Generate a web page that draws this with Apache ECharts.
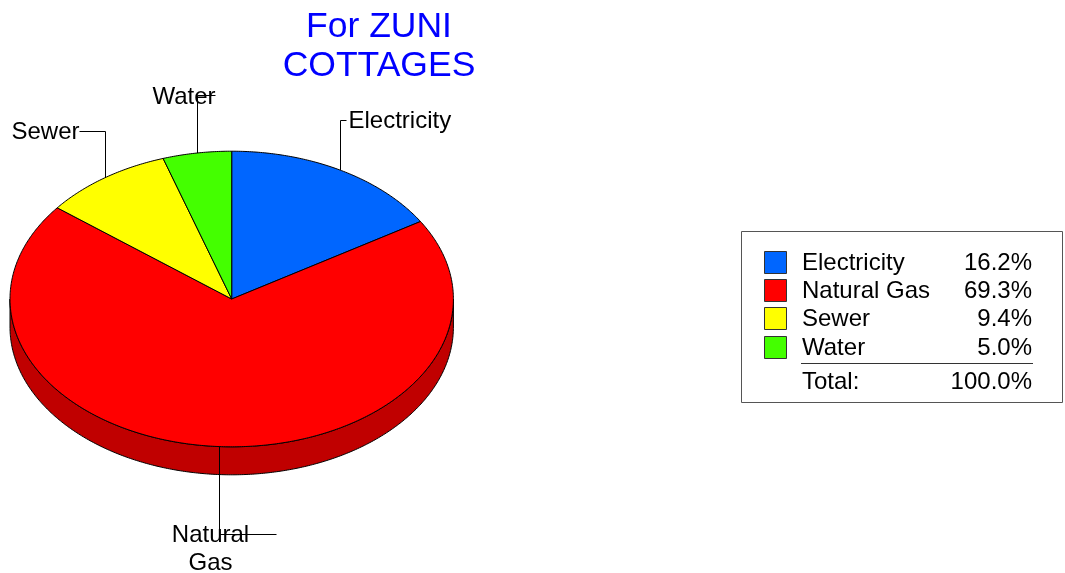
<!DOCTYPE html>
<html>
<head>
<meta charset="utf-8">
<script src="https://cdn.jsdelivr.net/npm/echarts@6/dist/echarts.min.js"></script>
<style>
  html, body { margin: 0; padding: 0; background: #fff; }
  #chart { width: 1065px; height: 573px; }
</style>
</head>
<body>
<div id="chart"></div>
<script>
// Utility cost shares (percent)
const categories = ['Electricity', 'Natural Gas', 'Sewer', 'Water'];
const shares = [16.2, 69.3, 9.4, 5.0];
const totalShare = 100.0;
const sliceLabels = ['Electricity', 'Natural\nGas', 'Sewer', 'Water'];
const titleText = 'For ZUNI\nCOTTAGES';

// Styling
const sliceColors = ['#0066ff', '#ff0000', '#ffff00', '#44ff00'];
const sideColors = ['#004cc0', '#c00000', '#c0c000', '#33c000'];
const FONT = '"Liberation Sans", Arial, Helvetica, sans-serif';

// Tilted pie geometry
const pie = { cx: 231.7, cy: 299, rx: 221.7, ry: 147.8, depth: 28 };

// Leader-line routing per slice: elbow y, horizontal tail, text offset
const labelRoutes = [
  { elbowY: 120.5, tail: 6, tx: 8, ty: 1, align: 'left', va: 'middle' },
  { elbowY: 534.5, tail: 57, tx: -9, ty: -13, align: 'center', va: 'top' },
  { elbowY: 131.5, tail: -26, tx: -26, ty: 1, align: 'right', va: 'middle' },
  { elbowY: 95.5, tail: 18, tx: 18, ty: 2, align: 'right', va: 'middle' }
];

const shareSum = shares.reduce((a, b) => a + b, 0);

function pt(a, dy) {
  return [pie.cx + pie.rx * Math.sin(a), pie.cy - pie.ry * Math.cos(a) + (dy || 0)];
}
function arc(a0, a1, dy) {
  const n = Math.max(2, Math.ceil(Math.abs(a1 - a0) / 0.01));
  const out = [];
  for (let k = 0; k <= n; k++) out.push(pt(a0 + (a1 - a0) * k / n, dy));
  return out;
}

function renderSlice(params, api) {
  const i = params.dataIndex;
  const v = api.value(0);
  let before = 0;
  for (let k = 0; k < i; k++) before += shares[k];
  const a0 = before / shareSum * 2 * Math.PI;
  const a1 = (before + v) / shareSum * 2 * Math.PI;
  const children = [];

  // side wall: only the front half (angles between 90° and 270°) shows
  const s0 = Math.max(a0, Math.PI / 2), s1 = Math.min(a1, Math.PI * 1.5);
  if (s1 > s0) {
    const pts = arc(s0, s1, 0).concat(arc(s1, s0, pie.depth));
    children.push({
      type: 'polygon', z2: 1,
      shape: { points: pts },
      style: { fill: sideColors[i], stroke: '#000', lineWidth: 1 }
    });
  }

  // top face
  children.push({
    type: 'polygon', z2: 10,
    shape: { points: [[pie.cx, pie.cy]].concat(arc(a0, a1, 0)) },
    style: { fill: sliceColors[i], stroke: '#000', lineWidth: 1, lineJoin: 'round' }
  });

  // leader line and label
  const r = labelRoutes[i];
  const m = pt((a0 + a1) / 2, 0);
  const ex = Math.round(m[0]) + 0.5;
  children.push({
    type: 'polyline', z2: 20,
    shape: { points: [[ex, m[1]], [ex, r.elbowY], [ex + r.tail, r.elbowY]] },
    style: { stroke: '#000', lineWidth: 1, fill: null }
  });
  children.push({
    type: 'text', z2: 19,
    style: {
      text: sliceLabels[i], x: ex + r.tx, y: r.elbowY + r.ty,
      align: r.align, textAlign: r.align,
      verticalAlign: r.va, textVerticalAlign: r.va,
      font: '24px ' + FONT, lineHeight: 28, fill: '#000'
    }
  });
  return { type: 'group', children: children };
}

// Legend panel built from the same arrays
const legendGraphics = [];
legendGraphics.push({
  type: 'rect', z: 0,
  shape: { x: 741.5, y: 231.5, width: 321, height: 171 },
  style: { fill: '#fff', stroke: '#555', lineWidth: 1 }
});
categories.forEach((name, i) => {
  const rowY = 261.5 + i * 28.4;
  legendGraphics.push({
    type: 'rect', z: 1,
    shape: { x: 764.5, y: Math.round(rowY - 11) + 0.5, width: 22, height: 22 },
    style: { fill: sliceColors[i], stroke: '#333', lineWidth: 1 }
  });
  legendGraphics.push({
    type: 'text', z: 1,
    style: { text: name, x: 802, y: rowY + 1.5, align: 'left', textAlign: 'left',
             verticalAlign: 'middle', textVerticalAlign: 'middle',
             font: '24px ' + FONT, fill: '#000' }
  });
  legendGraphics.push({
    type: 'text', z: 1,
    style: { text: shares[i].toFixed(1) + '%', x: 1032, y: rowY + 1.5, align: 'right', textAlign: 'right',
             verticalAlign: 'middle', textVerticalAlign: 'middle',
             font: '24px ' + FONT, fill: '#000' }
  });
});
legendGraphics.push({
  type: 'line', z: 1,
  shape: { x1: 801, y1: 363.5, x2: 1033, y2: 363.5 },
  style: { stroke: '#333', lineWidth: 1 }
});
legendGraphics.push({
  type: 'text', z: 1,
  style: { text: 'Total:', x: 802, y: 382.5, align: 'left', textAlign: 'left',
           verticalAlign: 'middle', textVerticalAlign: 'middle',
           font: '24px ' + FONT, fill: '#000' }
});
legendGraphics.push({
  type: 'text', z: 1,
  style: { text: totalShare.toFixed(1) + '%', x: 1032, y: 382.5, align: 'right', textAlign: 'right',
           verticalAlign: 'middle', textVerticalAlign: 'middle',
           font: '24px ' + FONT, fill: '#000' }
});
// Title
legendGraphics.push({
  type: 'text', z: 1,
  style: { text: titleText, x: 379, y: 8, align: 'center', textAlign: 'center',
           verticalAlign: 'top', textVerticalAlign: 'top',
           font: '35.5px ' + FONT, lineHeight: 38.5, fill: '#0000ff' }
});

const chart = echarts.init(document.getElementById('chart'), null, { renderer: 'canvas' });
chart.setOption({
  animation: false,
  backgroundColor: '#fff',
  graphic: { elements: legendGraphics },
  series: [{
    type: 'custom',
    coordinateSystem: 'none',
    renderItem: renderSlice,
    data: shares.map((v, i) => ({ name: categories[i], value: [v] }))
  }]
});
</script>
</body>
</html>
